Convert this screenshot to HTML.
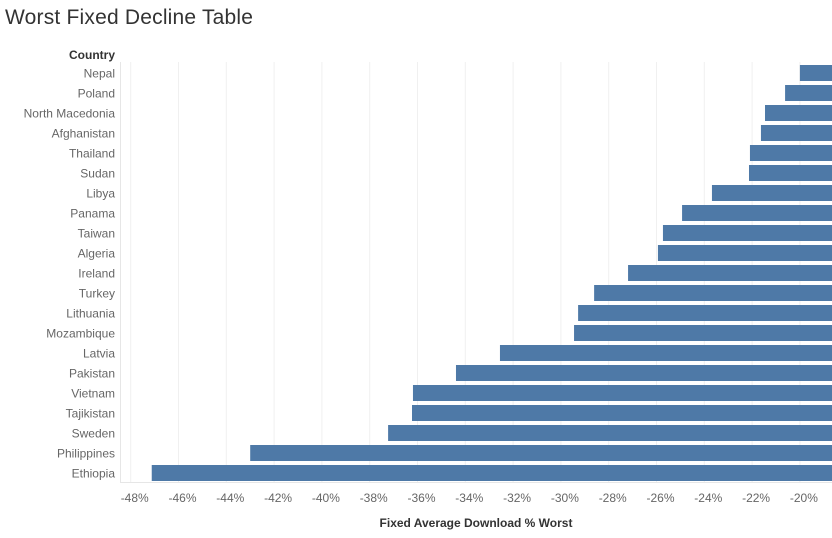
<!DOCTYPE html>
<html><head><meta charset="utf-8">
<style>
body{margin:0;width:832px;height:538px;background:#fff;overflow:hidden;font-family:"Liberation Sans",sans-serif;}
#title{position:absolute;left:5px;top:6px;font-size:21px;color:#333;letter-spacing:0.2px;}
</style></head><body>
<div id="title">Worst Fixed Decline Table</div>
<svg id="chart" width="832" height="538" style="position:absolute;left:0;top:0"></svg>
<script>
const countries=["Nepal","Poland","North Macedonia","Afghanistan","Thailand","Sudan","Libya","Panama","Taiwan","Algeria","Ireland","Turkey","Lithuania","Mozambique","Latvia","Pakistan","Vietnam","Tajikistan","Sweden","Philippines","Ethiopia"];
const values=[-20.0,-20.62,-21.46,-21.63,-22.09,-22.13,-23.68,-24.93,-25.73,-25.94,-27.19,-28.61,-29.28,-29.45,-32.55,-34.39,-36.19,-36.23,-37.23,-43.0,-47.12];
const ticks=[-48,-46,-44,-42,-40,-38,-36,-34,-32,-30,-28,-26,-24,-22,-20];
const tickLabels=ticks.map(t=>t+"%");
const svg=document.getElementById('chart');
const NS="http://www.w3.org/2000/svg";
const x=v=>130.7+(v+48)*23.9;
const y=i=>73+i*20;
function mk(t,a){const e=document.createElementNS(NS,t);for(const k in a)e.setAttribute(k,a[k]);svg.appendChild(e);return e;}
ticks.forEach((t,i)=>{
 const g=mk('line',{x1:x(t),x2:x(t),y1:62,y2:483,stroke:'#f0f0f0','stroke-width':1});
 
 
 const tl=mk('text',{x:x(t)+4,y:502,'text-anchor':'middle','font-size':12,fill:'#666'});
 tl.textContent=tickLabels[i];
 
 
});
const ax=mk('line',{x1:120.5,x2:120.5,y1:62,y2:483,stroke:'#e6e6e6'});


const bx=mk('line',{x1:120,x2:832,y1:482.5,y2:482.5,stroke:'#e6e6e6'});


countries.forEach((c,i)=>{
 const r=mk('rect',{x:x(values[i]),y:y(i)-8,width:832-x(values[i]),height:16,fill:'#4e79a7'});
 
 
 const t=mk('text',{x:115,y:y(i)+4.5,'text-anchor':'end','font-size':12,fill:'#666'});
 t.textContent=c;
 
 
});
const h=mk('text',{x:115,y:59,'text-anchor':'end','font-size':12,'font-weight':'bold',fill:'#333'});
h.textContent='Country';


const xt=mk('text',{x:476,y:527,'text-anchor':'middle','font-size':12,'font-weight':'bold',fill:'#333'});
xt.textContent='Fixed Average Download % Worst';


</script>
</body></html>
